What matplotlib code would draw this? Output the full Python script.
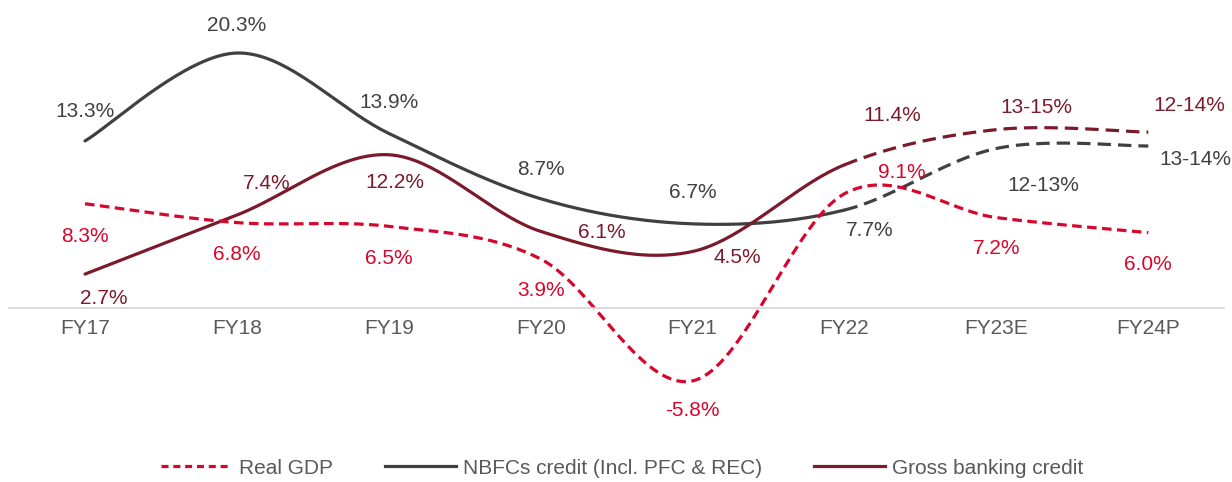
import numpy as np
import matplotlib
matplotlib.use("Agg")
import matplotlib.pyplot as plt
from matplotlib.lines import Line2D

plt.rcParams['font.family'] = ['Liberation Sans', 'DejaVu Sans']

categories = ["FY17", "FY18", "FY19", "FY20", "FY21", "FY22", "FY23E", "FY24P"]
gdp = [8.3, 6.8, 6.5, 3.9, -5.8, 9.1, 7.2, 6.0]
nbfc = [13.3, 20.3, 13.9, 8.7, 6.7, 7.8, 12.7, 12.9]
bank = [2.7, 7.4, 12.2, 6.1, 4.5, 11.4, 14.2, 14.0]
gdp_labels = ["8.3%", "6.8%", "6.5%", "3.9%", "-5.8%", "9.1%", "7.2%", "6.0%"]
nbfc_labels = ["13.3%", "20.3%", "13.9%", "8.7%", "6.7%", "7.7%", "12-13%", "13-14%"]
bank_labels = ["2.7%", "7.4%", "12.2%", "6.1%", "4.5%", "11.4%", "13-15%", "12-14%"]
series_names = ["Real GDP", "NBFCs credit (Incl. PFC & REC)", "Gross banking credit"]

C_GDP = "#D7062C"
C_NBFC = "#404040"
C_BANK = "#7A1A2B"

def smooth(xs, ys, n=40):
    """Catmull-Rom style smoothing (Excel-like). Returns list of segments."""
    xs = np.asarray(xs, float); ys = np.asarray(ys, float)
    P = np.column_stack([xs, ys])
    m = len(P)
    segs = []
    for i in range(m - 1):
        p0 = P[i - 1] if i > 0 else P[i]
        p1 = P[i]; p2 = P[i + 1]
        p3 = P[i + 2] if i + 2 < m else P[i + 1]
        c1 = p1 + (p2 - p0) / 6.0
        c2 = p2 - (p3 - p1) / 6.0
        t = np.linspace(0, 1, n)[:, None]
        B = ((1 - t) ** 3) * p1 + 3 * ((1 - t) ** 2) * t * c1 + 3 * (1 - t) * t ** 2 * c2 + t ** 3 * p2
        segs.append(B)
    return segs

fig = plt.figure(figsize=(12.32, 4.82), dpi=100)
ax = fig.add_axes([0, 0, 1, 1])
ax.set_xlim(-0.5596, 7.551)
ax.set_ylim(-13.85, 24.52)

x = np.arange(len(categories))
split = 5  # FY22 index: solid before, dashed after for credit series

def draw(vals, color, solid_split=None, ls_all=None, lw=2.3):
    segs = smooth(x, vals)
    if ls_all is not None:
        pts = np.vstack(segs)
        ax.plot(pts[:, 0], pts[:, 1], color=color, lw=lw, ls=ls_all, solid_capstyle='butt', dash_capstyle='butt')
        return
    a = np.vstack(segs[:solid_split]); b = np.vstack(segs[solid_split:])
    ax.plot(a[:, 0], a[:, 1], color=color, lw=lw, solid_capstyle='round')
    ax.plot(b[:, 0], b[:, 1], color=color, lw=lw, ls=(0, (4.2, 2.2)), dash_capstyle='butt')

draw(nbfc, C_NBFC, solid_split=split)
draw(bank, C_BANK, solid_split=split)
draw(gdp, C_GDP, ls_all=(0, (3.0, 1.7)))

ax.spines[['top', 'right', 'left']].set_visible(False)
ax.spines['bottom'].set_position(('data', 0))
ax.spines['bottom'].set_bounds(-0.5, 7.5)
ax.spines['bottom'].set_color('#D9D9D9')
ax.spines['bottom'].set_linewidth(1.3)
ax.set_yticks([])
ax.set_xticks(x)
ax.set_xticklabels(categories, fontsize=15, color='#595959')
ax.tick_params(axis='x', length=0, pad=7.7)
ax.patch.set_visible(False)

# label offsets in pixels (dx, dy), dy positive up
nbfc_off = [(0, 29), (0, 28), (0, 31), (0, 29), (0, 31), (25, -20), (47, -37), (47, -14)]
gdp_off = [(0, -33), (0, -32), (0, -32), (0, -31), (0, -30), (57, 21), (0, -31), (0, -32)]
bank_off = [(19, -24), (30, 32), (6, -28), (61, -1), (45, -6), (48, 49), (40, 22), (41, 27)]

for vals, labs, offs, col in [(nbfc, nbfc_labels, nbfc_off, C_NBFC),
                              (gdp, gdp_labels, gdp_off, C_GDP),
                              (bank, bank_labels, bank_off, C_BANK)]:
    for xi, v, lab, (dx, dy) in zip(x, vals, labs, offs):
        ax.annotate(lab, (xi, v), xytext=(dx, dy), textcoords='offset pixels',
                    ha='center', va='center', fontsize=15, color=col)

handles = [Line2D([], [], color=C_GDP, lw=2.3, ls=(0, (2.2, 1.5))),
           Line2D([], [], color=C_NBFC, lw=2.3),
           Line2D([], [], color=C_BANK, lw=2.3)]
leg = fig.legend(handles, series_names, loc='center', bbox_to_anchor=(0.505, 1 - 468 / 482),
                 ncol=3, frameon=False, fontsize=15, handlelength=3.4, handletextpad=0.35,
                 columnspacing=2.5)
for t in leg.get_texts():
    t.set_color('#595959')

fig.savefig("out.png", dpi=100)
